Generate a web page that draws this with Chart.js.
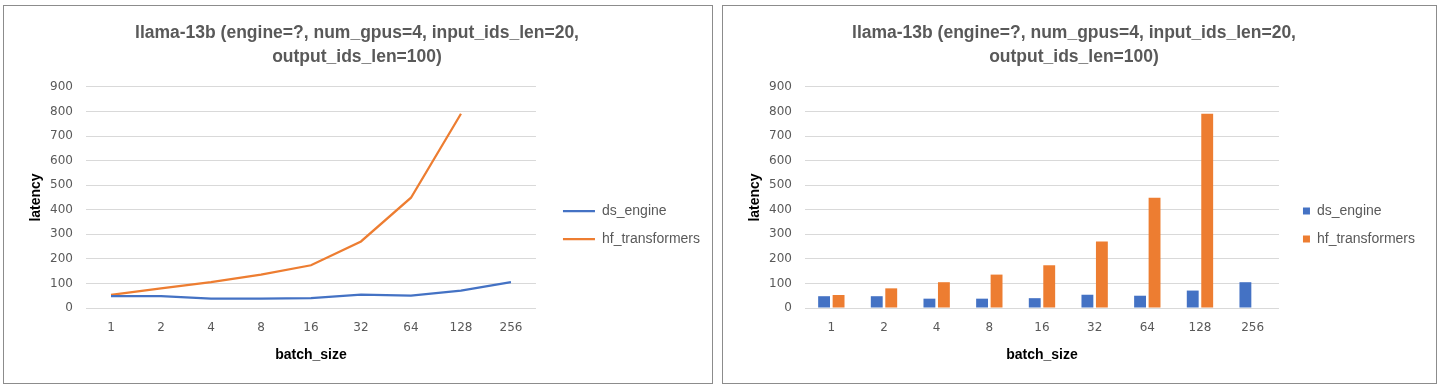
<!DOCTYPE html>
<html>
<head>
<meta charset="UTF-8">
<title>llama-13b latency</title>
<script src="https://cdn.jsdelivr.net/npm/chart.js"></script>
<style>
body{margin:0; background:#fff;}
.box{position:absolute; top:5px; height:379px; border:1px solid #8c8c8c; box-sizing:border-box; background:#fff;}
#box1{left:3px; width:710px;}
#box2{left:722px; width:715px;}
</style>
</head>
<body>
<div class="box" id="box1"><canvas id="lineChart"></canvas></div>
<div class="box" id="box2"><canvas id="barChart"></canvas></div>
<script>
var batchSizes = ['1', '2', '4', '8', '16', '32', '64', '128', '256'];
var dsEngine = [48, 48, 38, 38, 40, 54, 50, 71, 105];
var hfTransformers = [53, 80, 105, 136, 174, 271, 449, 791, null];
var chartTitle = ['llama-13b (engine=?, num_gpus=4, input_ids_len=20,', 'output_ids_len=100)'];
var seriesNames = ['ds_engine', 'hf_transformers'];
var seriesColors = ['#4472C4', '#ED7D31'];

var grey = '#595959';

function baseOptions(rightPad, legendGap, legendLabels) {
	return {
		responsive: true,
		maintainAspectRatio: false,
		animation: false,
		layout: { padding: { left: 0, right: rightPad, top: 0, bottom: 0 } },
		plugins: {
			title: {
				display: true,
				text: chartTitle,
				color: grey,
				font: { family: 'Liberation Sans', size: 17.5, weight: 'bold', lineHeight: 1.37 },
				padding: { top: 15, bottom: 18 }
			},
			legend: {
				position: 'right',
				// empty title just pushes the entries down a bit
				title: { display: true, text: ' ', font: { size: 1, lineHeight: 1 }, padding: { top: 60, bottom: 0 } },
				labels: legendLabels
			},
			tooltip: { enabled: false }
		},
		scales: {
			x: {
				offset: true,
				grid: { display: false, drawTicks: false },
				border: { display: false },
				ticks: { color: grey, font: { family: 'DejaVu Sans', size: 12 }, padding: 13 },
				title: {
					display: true, text: 'batch_size', color: '#000',
					font: { family: 'Liberation Sans', size: 14, weight: 'bold' },
					padding: { top: 0, bottom: 19 }
				},
				afterFit: function(s) { s.height = 75; }
			},
			y: {
				min: 0,
				max: 900,
				grid: { color: '#d9d9d9', drawTicks: false },
				border: { display: false },
				ticks: { stepSize: 100, color: grey, font: { family: 'DejaVu Sans', size: 12 }, padding: 13 },
				title: {
					display: true, text: 'latency', color: '#000',
					font: { family: 'Liberation Sans', size: 14, weight: 'bold' },
					padding: { top: 24, bottom: 0 }
				},
				afterFit: function(s) { s.width = 82; }
			},
			// hidden spacer between plot and legend
			gap: {
				type: 'linear',
				axis: 'y',
				position: 'right',
				display: false,
				afterFit: function(s) { s.width = legendGap; }
			}
		}
	};
}

// line chart
new Chart(document.getElementById('lineChart'), {
	type: 'line',
	data: {
		labels: batchSizes,
		datasets: [{
			label: seriesNames[0], data: dsEngine,
			borderColor: seriesColors[0], backgroundColor: seriesColors[0],
			borderWidth: 2.25, pointRadius: 0, tension: 0
		}, {
			label: seriesNames[1], data: hfTransformers,
			borderColor: seriesColors[1], backgroundColor: seriesColors[1],
			borderWidth: 2.25, pointRadius: 0, tension: 0
		}]
	},
	options: baseOptions(2, 13, {
		color: grey, font: { family: 'Liberation Sans', size: 14 }, padding: 14,
		usePointStyle: true, pointStyle: 'line', pointStyleWidth: 32
	})
});

// bar chart
new Chart(document.getElementById('barChart'), {
	type: 'bar',
	data: {
		labels: batchSizes,
		datasets: [{
			label: seriesNames[0], data: dsEngine, backgroundColor: seriesColors[0],
			categoryPercentage: 0.55, barPercentage: 0.82
		}, {
			label: seriesNames[1], data: hfTransformers, backgroundColor: seriesColors[1],
			categoryPercentage: 0.55, barPercentage: 0.82
		}]
	},
	options: baseOptions(11, 10, {
		color: grey, font: { family: 'Liberation Sans', size: 14 }, padding: 14,
		boxWidth: 7, boxHeight: 7
	})
});
</script>
</body>
</html>
